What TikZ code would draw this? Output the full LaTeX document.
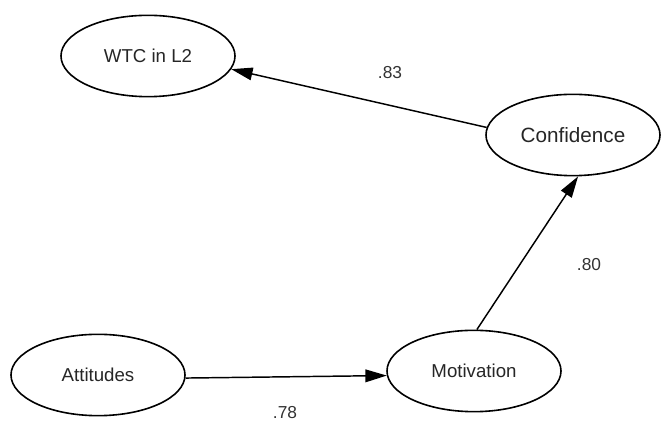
\documentclass[tikz,border=0pt]{standalone}
\usepackage{fontspec}
\setmainfont{Liberation Sans}
\usetikzlibrary{arrows.meta,shapes.geometric}
\begin{document}
\begin{tikzpicture}[x=0.75pt,y=-0.75pt,
  latent/.style={ellipse,draw=black,line width=1.2pt,fill=white,inner sep=0pt,
    minimum width=130.5pt,minimum height=61pt,text=black!85,
    font=\fontsize{14}{16}\selectfont},
  path/.style={line width=1.1pt,-{Triangle[length=16pt,width=9.5pt]}},
  coef/.style={text=black!80,font=\fontsize{13}{15}\selectfont}]
\useasboundingbox (0,0) rectangle (661,427);
\node[latent] (wtc) at (148,56) {WTC in L2};
\node[latent,font=\fontsize{15.5}{17}\selectfont] (conf) at (573,135) {Confidence};
\node[latent] (att) at (98,375) {Attitudes};
\node[latent] (mot) at (474,371) {Motivation};
\draw[path] (conf.175) -- (wtc.-9);
\draw[path] (mot.86) -- (conf.-83);
\draw[path] (att.-2) -- (mot.183);
\node[coef] (c83) at (390,73) {.83};
\node[coef] (c80) at (589,265) {.80};
\node[coef] (c78) at (285,413) {.78};
\end{tikzpicture}
\end{document}
